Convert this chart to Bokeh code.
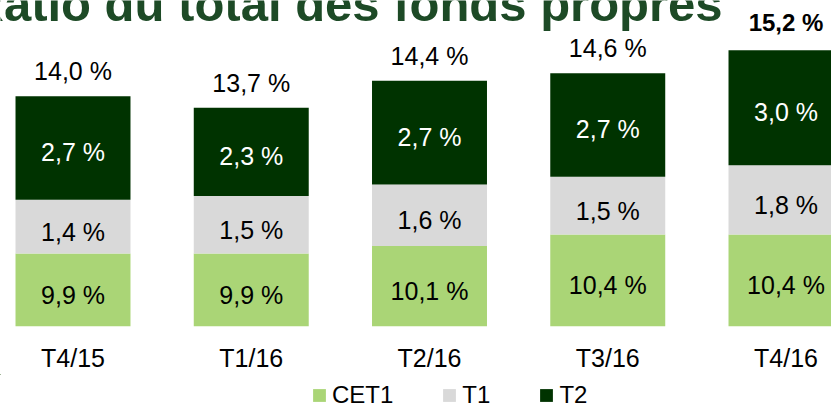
from bokeh.plotting import figure
from bokeh.layouts import column
from bokeh.models import ColumnDataSource, Range1d, Legend, LegendItem, Label, FixedTicker
from bokeh.core.properties import value
from bokeh.embed import file_html
from bokeh.resources import INLINE

# ---- data ----
periods = ["T4/15", "T1/16", "T2/16", "T3/16", "T4/16"]
cet1 = [9.9, 9.9, 10.1, 10.4, 10.4]
t1 = [1.4, 1.5, 1.6, 1.5, 1.8]
t2 = [2.7, 2.3, 2.7, 2.7, 3.0]
series = ["CET1", "T1", "T2"]
title_text = "Ratio du total des fonds propres"

# ---- style / layout ----
FONT = "Liberation Sans"
COLORS = ["#aad576", "#d9d9d9", "#003300"]
W = 831
H_MAIN = 374
H_LEG = 34
BOTTOM = 47
Y0 = 8.0
PX_PER_UNIT = 38.5
PX_PER_CAT = 178.25
X_START = -72.5 / PX_PER_CAT
frame_h = H_MAIN - BOTTOM
Y_END = Y0 + frame_h / PX_PER_UNIT


def fmt(v):
    return f"{v:.1f}".replace(".", ",") + " %"


xs = list(range(len(periods)))
totals = [round(a + b + c, 1) for a, b, c in zip(cet1, t1, t2)]
data = dict(
    x=xs,
    CET1=cet1, T1=t1, T2=t2,
    total=totals,
    total_lbl=[fmt(v) for v in totals],
    cet1_mid=[(Y0 + a) / 2 for a in cet1],
    t1_mid=[a + b / 2 for a, b in zip(cet1, t1)],
    t2_mid=[a + b + c / 2 for a, b, c in zip(cet1, t1, t2)],
    cet1_lbl=[fmt(v) for v in cet1],
    t1_lbl=[fmt(v) for v in t1],
    t2_lbl=[fmt(v) for v in t2],
)
src = ColumnDataSource(data)
src_prev = ColumnDataSource({k: v[:-1] for k, v in data.items()})
src_last = ColumnDataSource({k: v[-1:] for k, v in data.items()})

p = figure(width=W, height=H_MAIN, output_backend="svg", toolbar_location=None,
           x_range=Range1d(X_START, X_START + W / PX_PER_CAT),
           y_range=Range1d(Y0, Y_END),
           min_border_left=0, min_border_right=0, min_border_top=0,
           min_border_bottom=BOTTOM)
p.yaxis.visible = False
p.outline_line_color = None
p.xgrid.visible = False
p.ygrid.visible = False

rs = p.vbar_stack(series, x="x", width=0.645, color=COLORS, line_color=None,
                  source=src)

ax = p.xaxis[0]
ax.ticker = FixedTicker(ticks=xs)
ax.major_label_overrides = {i: lab for i, lab in zip(xs, periods)}
ax.axis_line_color = None
ax.major_tick_line_color = None
ax.minor_tick_line_color = None
ax.major_label_text_font = FONT
ax.major_label_text_font_size = "25px"
ax.major_label_text_color = "black"
ax.major_label_standoff = 11

common = dict(x="x", source=src, text_align="center", text_baseline="middle",
              text_font=value(FONT), text_font_size="25px")
p.text(y="cet1_mid", text="cet1_lbl", text_color="black", y_offset=5, **common)
p.text(y="t1_mid", text="t1_lbl", text_color="black", y_offset=5, **common)
p.text(y="t2_mid", text="t2_lbl", text_color="white", y_offset=4, **common)
p.text(x="x", y="total", text="total_lbl", source=src_prev, text_align="center",
       text_baseline="alphabetic", text_font=value(FONT), text_font_size="25px",
       text_color="black", y_offset=-25)
p.text(x="x", y="total", text="total_lbl", source=src_last, text_align="center",
       text_baseline="alphabetic", text_font=value(FONT), text_font_size="24px",
       text_font_style="bold", text_color="black", y_offset=-28)

p.add_layout(Label(x=X_START - 32 / PX_PER_CAT, y=Y_END - 4 / PX_PER_UNIT,
                   text=title_text, text_font=FONT, text_font_size="49px",
                   text_font_style="bold", text_color="#1d4a26",
                   text_baseline="alphabetic", text_align="left"))

# ---- legend strip (same stacked series, kept outside its visible ranges) ----
p2 = figure(width=W, height=H_LEG, output_backend="svg", toolbar_location=None,
            x_range=Range1d(100, 101), y_range=Range1d(-2, -1),
            min_border_left=0, min_border_right=0, min_border_top=0,
            min_border_bottom=0)
p2.xaxis.visible = False
p2.yaxis.visible = False
p2.xgrid.visible = False
p2.ygrid.visible = False
p2.outline_line_color = None
leg_rs = p2.vbar_stack(series, x="x", width=0.645, color=COLORS, line_color=None,
                       source=src)
legend = Legend(items=[LegendItem(label=s, renderers=[r]) for s, r in zip(series, leg_rs)],
                orientation="horizontal", location=(311, -1),
                glyph_width=16, glyph_height=16, label_standoff=5, spacing=48,
                padding=0, margin=0, border_line_color=None,
                background_fill_alpha=0,
                label_text_font=FONT, label_text_font_size="24px",
                label_text_color="black")
p2.add_layout(legend)

layout = column(p, p2, spacing=0)
open("out.html", "w").write(file_html(layout, INLINE))
